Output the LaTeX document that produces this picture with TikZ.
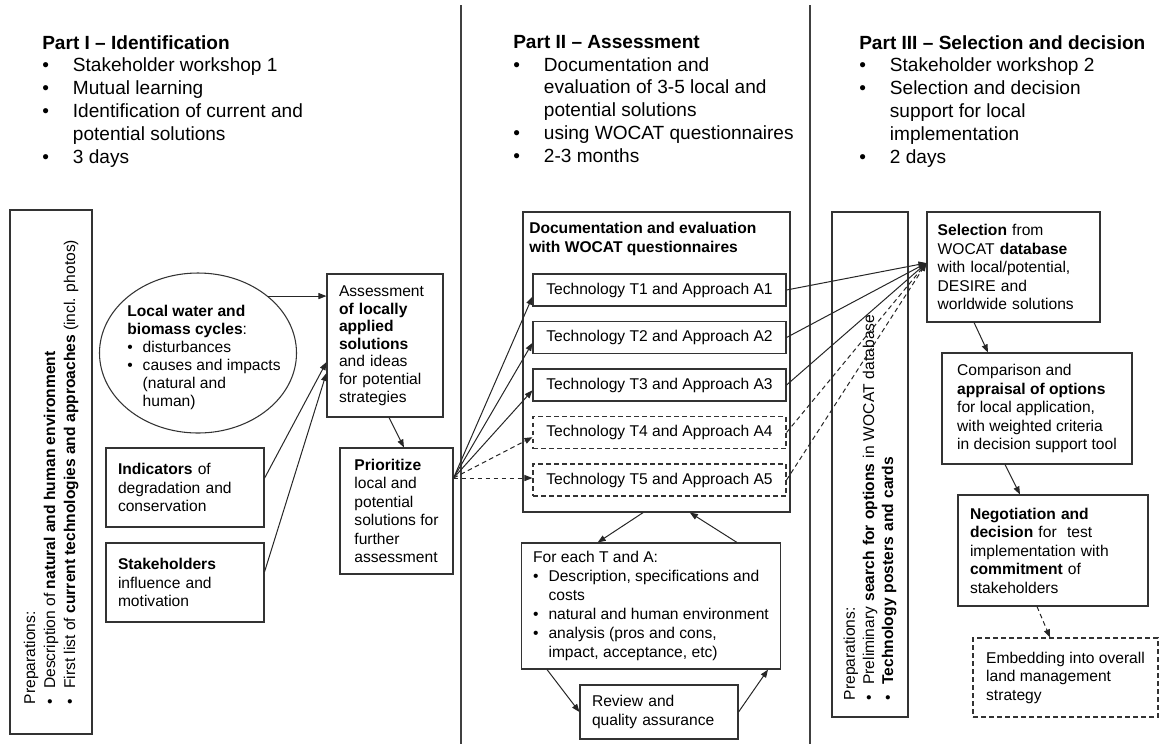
\documentclass[tikz,border=0pt]{standalone}
\usepackage{fontspec}
\setmainfont{Liberation Sans}
\usetikzlibrary{arrows.meta,shapes.geometric}

\newcommand{\boxfont}{\fontsize{11.7}{13.9}\selectfont}
\newcommand{\headfont}{\fontsize{14.3}{17.1}\selectfont}
\newcommand{\headbul}{\makebox[23pt][l]{\textbullet}}
\newcommand{\boxbul}{\makebox[11.5pt][l]{\textbullet}}

\begin{document}
\begin{tikzpicture}[x=0.75pt,y=-0.75pt,
  box/.style={draw=black!80, line width=0.8pt, font=\boxfont, align=left, inner xsep=9pt, inner ysep=0pt},
  dbox/.style={box, dash pattern=on 3.5pt off 2.5pt},
  tech/.style={align=center, minimum width=189.75pt, minimum height=24pt},
  head/.style={anchor=north west, inner sep=0pt, align=left, font=\headfont},
  arr/.style={draw=black!85, line width=0.75pt, -{Triangle[length=6pt,width=4.5pt]}},
  darr/.style={arr, dash pattern=on 3.5pt off 2.5pt},
  sep/.style={draw=black!75, line width=1.1pt}]
\useasboundingbox (0,0) rectangle (1162,744);

\draw[sep] (461,5) -- (461,744);
\draw[sep] (810,5) -- (810,744);

% headings
\node[head] (head1) at (42,35) {\textbf{Part I -- Identification}\\
  \headbul Stakeholder workshop 1\\ \headbul Mutual learning\\
  \headbul Identification of current and\\ \hspace*{23pt}potential solutions\\ \headbul 3 days};
\node[head] (head2) at (513,35) {\textbf{Part II -- Assessment}\\
  \headbul Documentation and\\ \hspace*{23pt}evaluation of 3-5 local and\\ \hspace*{23pt}potential solutions\\
  \headbul using WOCAT questionnaires\\ \headbul 2-3 months};
\node[head] (head3) at (859,35) {\textbf{Part III -- Selection and decision}\\
  \headbul Stakeholder workshop 2\\ \headbul Selection and decision\\
  \hspace*{23pt}support for local\\ \hspace*{23pt}implementation\\ \headbul 2 days};

% part I
\node[box, rotate=90, font=\fontsize{11.7}{15}\selectfont, minimum width=393pt, minimum height=61.5pt] (prepL) at (51,472)
  {Preparations:\\ \boxbul Description of \textbf{natural and human environment}\\
   \boxbul First list of \textbf{current technologies and approaches} (incl. photos)};
\node[draw=black!80, line width=0.8pt, ellipse, minimum width=147.75pt, minimum height=120pt, inner sep=0pt] (cycles) at (198,353) {};
\node[font=\fontsize{11.7}{13.5}\selectfont, align=left, inner sep=0pt] (cyctext) at (204,357)
  {\textbf{Local water and}\\ \textbf{biomass cycles}:\\ \boxbul disturbances\\ \boxbul causes and impacts\\
   \hspace*{11.5pt}(natural and\\ \hspace*{11.5pt}human)};
\node[box, text width=69pt, minimum width=87pt, minimum height=107.25pt, font=\fontsize{11.7}{13.2}\selectfont] (assess) at (385,345.5)
  {Assessment\\ \textbf{of locally}\\ \textbf{applied}\\ \textbf{solutions}\\ and ideas\\ for potential\\ strategies};
\node[box, text width=100.5pt, minimum width=118.5pt, minimum height=59.25pt] (indic) at (185,487.5)
  {\textbf{Indicators} of\\ degradation and\\ conservation};
\node[box, text width=100.5pt, minimum width=118.5pt, minimum height=59.25pt] (stake) at (185,582.5)
  {\textbf{Stakeholders}\\ influence and\\ motivation};
\node[box, minimum width=84.75pt, minimum height=94.5pt] (prio) at (396.5,511)
  {\textbf{Prioritize}\\ local and\\ potential\\ solutions for\\ further\\ assessment};

\draw[arr] (cycles.north east) -- (cycles.north east -| assess.west);
\draw[arr] ([yshift=7pt]indic.east) -- ([yshift=-12.4pt]assess.west);
\draw[arr] ([yshift=8pt]stake.east) -- ([yshift=-20.6pt]assess.west);
\draw[arr] ([xshift=3pt]assess.south) -- ([xshift=5.6pt]prio.north);

% part II
\node[box, minimum width=200.25pt, minimum height=225pt] (docbox) at (656.5,362) {};
\node[anchor=north west, inner sep=0pt, align=left, font=\fontsize{11.7}{14.2}\selectfont\bfseries] (doctitle) at (529,222)
  {Documentation and evaluation\\ with WOCAT questionnaires};
\node[box, tech] (T1) at (659.5,290) {Technology T1 and Approach A1};
\node[box, tech] (T2) at (659.5,337.5) {Technology T2 and Approach A2};
\node[box, tech] (T3) at (659.5,385) {Technology T3 and Approach A3};
\node[dbox, tech] (T4) at (659.5,432.5) {Technology T4 and Approach A4};
\node[dbox, tech] (T5) at (659.5,480) {Technology T5 and Approach A5};
\node[box, minimum width=192pt, minimum height=94.5pt, font=\fontsize{11.7}{14.2}\selectfont] (feach) at (651,606)
  {For each T and A:\\ \boxbul Description, specifications and\\ \hspace*{11.5pt}costs\\
   \boxbul natural and human environment\\ \boxbul analysis (pros and cons,\\ \hspace*{11.5pt}impact, acceptance, etc)};
\node[box, text width=100.5pt, minimum width=118.5pt, minimum height=40.5pt] (review) at (659,712)
  {Review and\\ quality assurance};

\coordinate (fan) at ([yshift=24.75pt]prio.east);
\draw[arr] (fan) -- ([yshift=-5pt]T1.west);
\draw[arr] (fan) -- ([yshift=-4pt]T2.west);
\draw[arr] (fan) -- ([yshift=-4pt]T3.west);
\draw[darr] (fan) -- ([yshift=-3.5pt]T4.west);
\draw[darr] (fan) -- (fan -| T5.west);
\draw[arr] ([xshift=-10pt]docbox.south) -- ([xshift=-40pt]feach.north);
\draw[arr] ([xshift=64.5pt]feach.north) -- ([xshift=25pt]docbox.south);
\draw[arr] ([xshift=-78pt]feach.south) -- (review.west);
\draw[arr] (review.east) -- ([xshift=87.75pt]feach.south);

% part III
\node[box, rotate=90, font=\fontsize{11.7}{14.3}\selectfont, text width=353.25pt, inner xsep=12.75pt, minimum width=378.75pt, minimum height=57pt] (prepR) at (870,464.5)
  {Preparations:\\ \boxbul Preliminary \textbf{search for options} in WOCAT database\\
   \boxbul\textbf{Technology posters and cards}};
\node[box, text width=113.75pt, inner xsep=8pt, minimum width=129.75pt, minimum height=82.5pt] (select) at (1013.5,267)
  {\textbf{Selection} from\\ WOCAT \textbf{database}\\ with local/potential,\\ DESIRE and\\ worldwide solutions};
\node[box, minimum width=142.5pt, minimum height=83.25pt] (compar) at (1037,408.5)
  {Comparison and\\ \textbf{appraisal of options}\\ for local application,\\ with weighted criteria\\ in decision support tool};
\node[box, text width=124.5pt, minimum width=142.5pt, minimum height=83.25pt] (negot) at (1053,550.5)
  {\textbf{Negotiation and}\\ \textbf{decision} for\ \ test\\ implementation with\\ \textbf{commitment} of\\ stakeholders};
\node[dbox, minimum width=138.75pt, minimum height=59.25pt] (embed) at (1065.5,677.5)
  {Embedding into overall\\ land management\\ strategy};

\coordinate (hub) at ([yshift=3pt]select.west);
\draw[arr] (T1.east) -- (hub);
\draw[arr] (T2.east) -- (hub);
\draw[arr] (T3.east) -- (hub);
\draw[darr] (T4.east) -- (hub);
\draw[darr] (T5.east) -- (hub);
\draw[arr] ([xshift=-29.6pt]select.south) -- ([xshift=-36.75pt]compar.north);
\draw[arr] ([xshift=-24pt]compar.south) -- ([xshift=-24.75pt]negot.north);
\draw[darr] ([xshift=-12pt]negot.south) -- ([xshift=-11.6pt]embed.north);
\end{tikzpicture}
\end{document}
